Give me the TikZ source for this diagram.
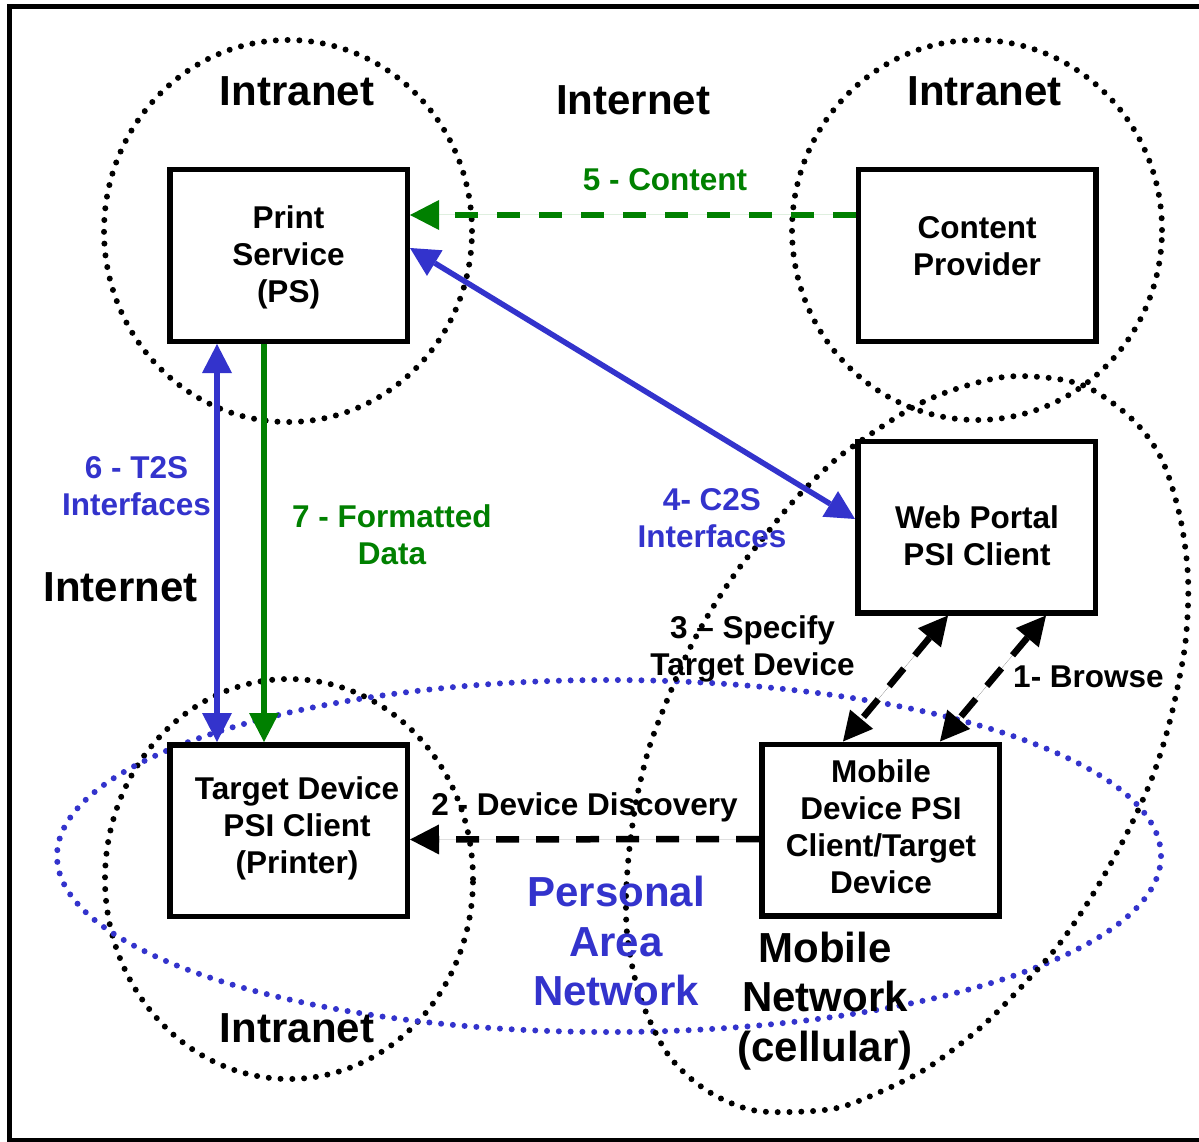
\documentclass[tikz,border=0pt]{standalone}
\usepackage{fontspec}
\setmainfont{Liberation Sans}
\usetikzlibrary{arrows.meta}
\definecolor{pblue}{HTML}{3333CC}
\definecolor{pgreen}{HTML}{008000}
\begin{document}
\begin{tikzpicture}[x=1pt,y=-1pt,
  box/.style={draw, line width=5.5pt, fill=white, minimum width=237.5pt, minimum height=171.5pt, inner sep=0pt},
  txt/.style={font=\fontsize{31.5}{37}\selectfont\bfseries, align=center, inner sep=0pt},
  big/.style={font=\fontsize{42}{49.5}\selectfont\bfseries, align=center, inner sep=0pt},
  dotline/.style={line width=6pt, line cap=round, dash pattern=on 0pt off 11.8pt},
  arr/.style={-{Triangle[length=29pt,width=30pt,line width=0pt]}},
  darr/.style={{Triangle[length=29pt,width=30pt,line width=0pt]}-{Triangle[length=29pt,width=30pt,line width=0pt]}},
  bline/.style={draw=pblue, fill=pblue, line width=5.5pt},
  gline/.style={draw=pgreen, fill=pgreen, line width=5.5pt},
  gdash/.style={draw=pgreen, fill=pgreen, line width=6pt, dash pattern=on 23pt off 19pt},
  kdash/.style={draw=black, fill=black, line width=6.5pt, dash pattern=on 23pt off 17pt}
]
\useasboundingbox (0,0) rectangle (1199,1142);
% frame
\draw[line width=5pt] (9,7) rectangle (1215,1140);

% dotted regions
\draw[dotline] (288,231) ellipse [x radius=184pt, y radius=191pt];
\draw[dotline] (977,230) ellipse [x radius=185pt, y radius=190pt];
\draw[dotline] (289,879) ellipse [x radius=184pt, y radius=200pt];
\draw[dotline, pblue] (609,856) ellipse [x radius=552pt, y radius=176pt];
\draw[dotline] plot[smooth cycle, tension=0.55] coordinates {
  (852,447) (923,402) (992,379) (1040,377) (1087,387) (1133,420) (1162,460)
  (1180,517) (1188,577) (1186,637) (1178,685) (1167,732) (1152,778) (1132,823)
  (1110,865) (1085,907) (1057,947) (1025,983) (991,1018) (963,1042) (924,1070)
  (880,1092) (837,1108) (790,1112) (752,1110) (718,1097) (689,1077) (665,1050)
  (643,1005) (633,970) (627,933) (626,898) (628,863) (632,828) (638,792)
  (650,745) (668,698) (687,654) (710,612) (737,571) (760,542) (790,505) (820,474)};

% boxes
\node[box] (ps) at (288.5,255.5) {};
\node[box] (cp) at (977,255.5) {};
\node[box] (wp) at (976.5,527) {};
\node[box] (md) at (880.5,830) {};
\node[box] (td) at (288.5,830.5) {};

\node[txt] (pst) at (288.5,257) {Print\\Service\\(PS)};
\node[txt] (cpt) at (977,246.5) {Content\\Provider};
\node[txt] (wpt) at (977,535.5) {Web Portal\\PSI Client};
\node[txt] (mdt) at (881,827) {Mobile\\Device PSI\\Client/Target\\Device};
\node[txt] (tdt) at (297,828) {Target Device\\PSI Client\\(Printer)};

% region titles
\node[big] (in1) at (297,91) {Intranet};
\node[big] (in2) at (984.5,91) {Intranet};
\node[big] (in3) at (297,1028) {Intranet};
\node[big] (it1) at (633,100) {Internet};
\node[big] (it2) at (120.5,587) {Internet};
\node[big, pblue] (pan) at (616,941) {Personal\\Area\\Network};
\node[big] (mob) at (825,1001) {Mobile\\Network\\(cellular)};

% connectors
\draw[gdash, arr] ([yshift=40.5pt]cp.west) -- ([yshift=40.5pt]ps.east);
\draw[bline, darr] ([yshift=7.5pt]ps.east) -- ([yshift=8pt]wp.west);
\draw[bline, darr] ([xshift=-71.5pt]ps.south) -- ([xshift=-71.5pt]td.north);
\draw[gline, arr] ([xshift=-24.5pt]ps.south) -- ([xshift=-24.5pt]td.north);
\draw[kdash, arr] ([yshift=-9pt]md.west) -- ([yshift=-9pt]td.east);
\draw[kdash, darr] ([xshift=-28.5pt]wp.south) -- ([xshift=-37.5pt]md.north);
\draw[kdash, darr] ([xshift=69.5pt]wp.south) -- ([xshift=59.5pt]md.north);

% connector labels
\node[txt, pgreen] (l5) at (665,180) {5 - Content};
\node[txt, pblue] (l6) at (136.5,486.5) {6 - T2S\\Interfaces};
\node[txt, pgreen] (l7) at (392,534.5) {7 - Formatted\\Data};
\node[txt, pblue] (l4) at (712,518.5) {4- C2S\\Interfaces};
\node[txt] (l3) at (752.5,649) {3 – Specify\\Target Device};
\node[txt] (l1) at (1088.5,677) {1- Browse};
\node[txt] (l2) at (584.5,807) {2 - Device Discovery};
\end{tikzpicture}
\end{document}
